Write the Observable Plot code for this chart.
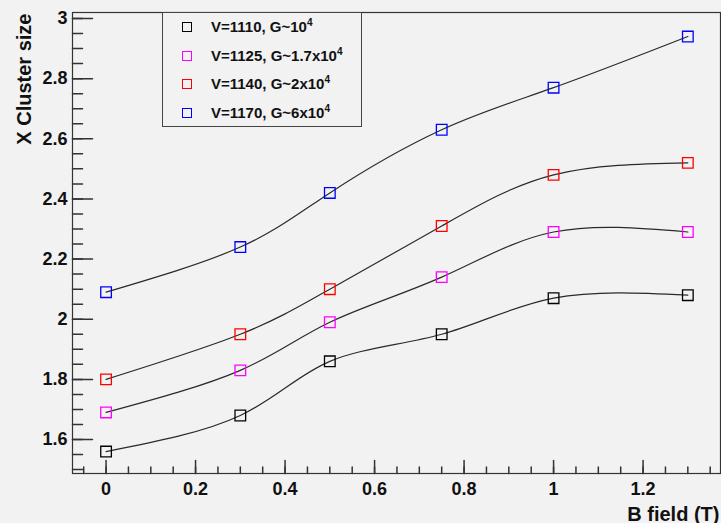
<!DOCTYPE html>
<html><head><meta charset="utf-8">
<script src="https://cdn.jsdelivr.net/npm/d3@7"></script>
<script src="https://cdn.jsdelivr.net/npm/@observablehq/plot@0.6"></script>
<style>
html,body{margin:0;padding:0;background:#f2f2f2;}
#wrap{position:relative;width:721px;height:523px;font-family:"Liberation Sans",Arial,sans-serif;font-weight:bold;}
#legend{position:absolute;left:162px;top:12px;width:200px;height:115px;box-sizing:border-box;border:1px solid #444;background:#f2f2f2;}
.row{position:absolute;left:0;height:20px;display:flex;align-items:center;}
.mk{position:absolute;left:19px;width:10px;height:10px;box-sizing:border-box;border:1.3px solid #000;}
.lt{position:absolute;left:48px;font-size:15px;white-space:nowrap;color:#111;line-height:20px;}
.lt sup{font-size:10px;vertical-align:0;position:relative;top:-6px;}
</style></head>
<body><div id="wrap"></div>
<script>
const bField = [0, 0.3, 0.5, 0.75, 1, 1.3];
const seriesNames = ["V=1110, G~10", "V=1125, G~1.7x10", "V=1140, G~2x10", "V=1170, G~6x10"];
const seriesExp = ["4", "4", "4", "4"];
const seriesColors = ["#000000", "#ff00ff", "#ff0000", "#0000ff"];
const sizeV1110 = [1.56, 1.68, 1.86, 1.95, 2.07, 2.08];
const sizeV1125 = [1.69, 1.83, 1.99, 2.14, 2.29, 2.29];
const sizeV1140 = [1.80, 1.95, 2.10, 2.31, 2.48, 2.52];
const sizeV1170 = [2.09, 2.24, 2.42, 2.63, 2.77, 2.94];
const xTickLabels = [0, 0.2, 0.4, 0.6, 0.8, 1, 1.2];
const yTickLabels = [1.6, 1.8, 2, 2.2, 2.4, 2.6, 2.8, 3];
const xTitle = "B field (T)";
const yTitle = "X Cluster size";

const allSeries = [sizeV1110, sizeV1125, sizeV1140, sizeV1170];
const rows = [];
allSeries.forEach((vals, s) => vals.forEach((v, i) => rows.push({x: bField[i], y: v, s})));

const xMinor = d3.range(-1, 28).map(i => +(i * 0.05).toFixed(2));
const yMinor = d3.range(30, 61).map(i => +(i * 0.05).toFixed(2));
const tickShape = {draw(ctx, l) { ctx.moveTo(0, 0); ctx.lineTo(0, -l); }};
const ink = "#333";

const chart = Plot.plot({
  width: 721, height: 523,
  marginLeft: 72, marginRight: 1, marginTop: 12, marginBottom: 50,
  style: {background: "#f2f2f2", fontFamily: "'Liberation Sans', Arial, sans-serif", fontWeight: "bold", color: "#111"},
  x: {domain: [-0.075, 1.373]},
  y: {domain: [1.487, 3.02]},
  marks: [
    Plot.vector(xMinor, {x: d => d, frameAnchor: "bottom", length: 6.5, rotate: 0, anchor: "start", shape: tickShape, stroke: ink}),
    Plot.vector(xTickLabels, {x: d => d, frameAnchor: "bottom", length: 13, rotate: 0, anchor: "start", shape: tickShape, stroke: ink}),
    Plot.vector(yMinor, {y: d => d, frameAnchor: "left", length: 10, rotate: 90, anchor: "start", shape: tickShape, stroke: ink}),
    Plot.vector(yTickLabels, {y: d => d, frameAnchor: "left", length: 20, rotate: 90, anchor: "start", shape: tickShape, stroke: ink}),
    Plot.axisX(xTickLabels, {tickSize: 0, tickPadding: 9, fontSize: 18, fontWeight: "bold", label: null, tickFormat: d => String(d)}),
    Plot.axisY(yTickLabels, {tickSize: 0, tickPadding: 5, fontSize: 18, fontWeight: "bold", label: null, tickFormat: d => String(d)}),
    Plot.frame({stroke: ink, strokeWidth: 1.2}),
    Plot.line(rows, {x: "x", y: "y", z: "s", curve: "natural", stroke: "#2a2a2a", strokeWidth: 1.2}),
    Plot.dot(rows, {x: "x", y: "y", symbol: "square", r: 6, fill: "none", strokeWidth: 1.3, stroke: d => seriesColors[d.s]}),
    Plot.text([xTitle], {frameAnchor: "bottom-right", text: d => d, textAnchor: "end", lineAnchor: "bottom", dy: 47, dx: -1, fontSize: 20, fontWeight: "bold"}),
    Plot.text([yTitle], {frameAnchor: "top-left", text: d => d, textAnchor: "end", lineAnchor: "bottom", rotate: -90, dx: -41.5, dy: 1, fontSize: 20, fontWeight: "bold"})
  ]
});
chart.setAttribute("style", (chart.getAttribute("style") || "") + ";color:#111;");
const wrap = document.getElementById("wrap");
wrap.appendChild(chart);

const legend = document.createElement("div");
legend.id = "legend";
const rowTops = [14.5, 43.5, 72, 101];
seriesNames.forEach((name, i) => {
  const row = document.createElement("div");
  row.className = "row";
  row.style.top = (rowTops[i] - 10 - 1) + "px";
  row.style.width = "100%";
  const mk = document.createElement("div");
  mk.className = "mk";
  mk.style.borderColor = seriesColors[i];
  mk.style.top = "5px";
  const lt = document.createElement("div");
  lt.className = "lt";
  lt.style.top = "0px";
  lt.innerHTML = name + "<sup>" + seriesExp[i] + "</sup>";
  row.appendChild(mk); row.appendChild(lt);
  legend.appendChild(row);
});
wrap.appendChild(legend);
</script>
</body></html>
